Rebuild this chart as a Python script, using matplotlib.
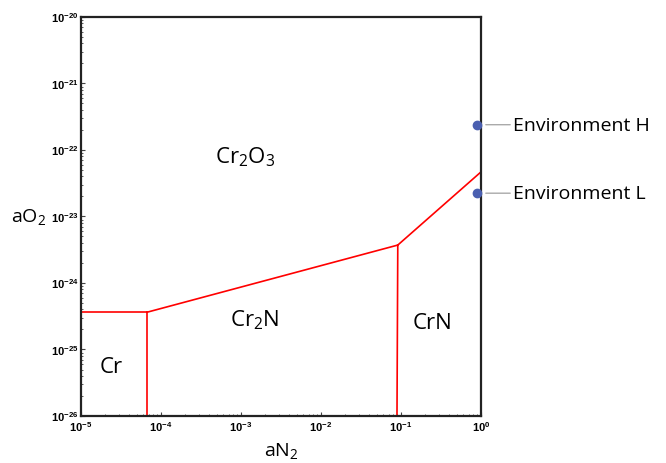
import numpy as np
import matplotlib
matplotlib.use('Agg')
import matplotlib.pyplot as plt
from matplotlib.ticker import FuncFormatter, LogLocator, NullFormatter

plt.rcParams['font.family'] = ['Open Sans', 'DejaVu Sans']
plt.rcParams['mathtext.fontset'] = 'custom'
plt.rcParams['mathtext.rm'] = 'Open Sans'
plt.rcParams['mathtext.it'] = 'Open Sans'
plt.rcParams['mathtext.bf'] = 'Liberation Sans:bold'

# phase boundaries (log10 activities)
cr_cr2n_x = [-5.0, -4.175]
cr_cr2n_y = [-24.44, -24.44]
cr_vert_x = [-4.175, -4.175]
cr_vert_y = [-24.44, -26.0]
cr2n_top_x = [-4.175, -1.04]
cr2n_top_y = [-24.44, -23.43]
crn_vert_x = [-1.04, -1.05]
crn_vert_y = [-23.43, -26.0]
crn_top_x = [-1.04, 0.0]
crn_top_y = [-23.43, -22.33]

# environments
env_names = ['Environment H', 'Environment L']
env_x = [-0.05, -0.05]
env_y = [-21.62, -22.65]

# phase labels
phase_names = [r'$\mathrm{Cr_2O_3}$', r'$\mathrm{Cr_2N}$', 'Cr', 'CrN']
phase_x = [-2.95, -2.83, -4.62, -0.61]
phase_y = [-22.1, -24.55, -25.26, -24.6]

fig = plt.figure(figsize=(6.66, 4.64), dpi=100)
ax = fig.add_axes([0.1216, 0.1013, 0.6006, 0.86])

segs = [(cr_cr2n_x, cr_cr2n_y), (cr_vert_x, cr_vert_y), (cr2n_top_x, cr2n_top_y),
        (crn_vert_x, crn_vert_y), (crn_top_x, crn_top_y)]
for sx, sy in segs:
    ax.plot(10.0 ** np.array(sx), 10.0 ** np.array(sy), color='red', lw=1.2)

for name, x, y in zip(phase_names, phase_x, phase_y):
    ax.text(10.0 ** x, 10.0 ** y, name, fontsize=16, ha='center', va='center')

for name, x, y in zip(env_names, env_x, env_y):
    ax.plot(10.0 ** x, 10.0 ** y, 'o', color='#4a5fb0', ms=6, clip_on=False, zorder=5)
    ax.annotate(name, xy=(10.0 ** 0.06, 10.0 ** y), xytext=(10.0 ** 0.4, 10.0 ** y),
                fontsize=14, va='center', ha='left', annotation_clip=False,
                arrowprops=dict(arrowstyle='-', color='#aaaaaa', lw=1,
                                shrinkA=0, shrinkB=0))

ax.set_xscale('log')
ax.set_yscale('log')
ax.set_xlim(1e-5, 1)
ax.set_ylim(1e-26, 1e-20)

fmt = FuncFormatter(lambda v, p: r'$\mathbf{10^{%d}}$' % round(np.log10(v)))
ax.xaxis.set_major_formatter(fmt)
ax.yaxis.set_major_formatter(fmt)
ax.xaxis.set_major_locator(LogLocator(base=10, numticks=10))
ax.yaxis.set_major_locator(LogLocator(base=10, numticks=10))
ax.xaxis.set_minor_locator(LogLocator(base=10, subs=np.arange(2, 10), numticks=10))
ax.yaxis.set_minor_locator(LogLocator(base=10, subs=np.arange(2, 10), numticks=10))
ax.xaxis.set_minor_formatter(NullFormatter())
ax.yaxis.set_minor_formatter(NullFormatter())
ax.tick_params(which='both', direction='in', labelsize=8, color='#444444')
ax.tick_params(which='major', length=3, width=0.8, pad=2)
ax.tick_params(which='minor', length=1.5, width=0.6)
ax.tick_params(axis='x', which='major', pad=3)

for s in ax.spines.values():
    s.set_linewidth(1.6)
    s.set_color('#222222')

ax.set_xlabel(r'$\mathrm{aN_2}$', fontsize=14)
ax.set_ylabel(r'$\mathrm{aO_2}$', fontsize=14, rotation=0)
ax.xaxis.set_label_coords(0.5, -0.085)
ax.yaxis.set_label_coords(-0.13, 0.50)
ax.xaxis.label.set_va('center')
ax.yaxis.label.set_va('center')
ax.yaxis.label.set_ha('center')

fig.savefig('out.png', dpi=100)
